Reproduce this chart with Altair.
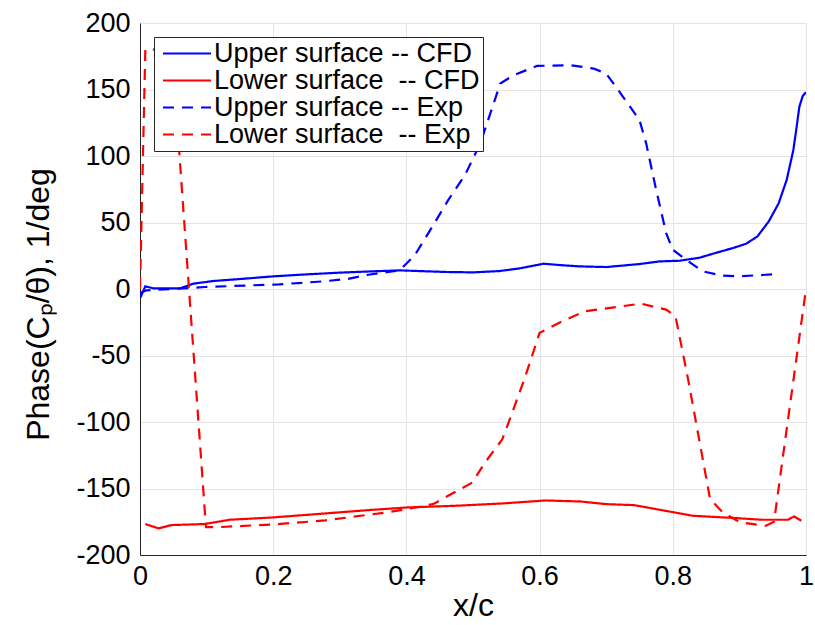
import altair as alt
import pandas as pd

series_names = [
    "Upper surface -- CFD",
    "Lower surface\u00a0 -- CFD",
    "Upper surface -- Exp",
    "Lower surface\u00a0 -- Exp",
]
series_colors = ["#0000ff", "#ff0000", "#0000ff", "#ff0000"]
series_dashes = [[1, 0], [1, 0], [11, 8], [11, 8]]

x_ticks = [0, 0.2, 0.4, 0.6, 0.8, 1]
y_ticks = [-200, -150, -100, -50, 0, 50, 100, 150, 200]

upper_cfd_x = [0, 0.008, 0.02, 0.04, 0.06, 0.08, 0.11, 0.15, 0.2, 0.25, 0.3, 0.35, 0.39,
               0.43, 0.46, 0.5, 0.54, 0.57, 0.606, 0.63, 0.66, 0.7, 0.75, 0.78, 0.81, 0.84,
               0.86, 0.89, 0.91, 0.927, 0.944, 0.959, 0.971, 0.981, 0.986, 0.99, 0.995, 1.0]
upper_cfd_y = [-7, 2, 0.5, 0.5, 0.5, 4, 6, 7.5, 9.5, 11, 12.3, 13.3, 14,
               13.3, 12.8, 12.5, 13.5, 15.5, 19, 18, 17, 16.5, 18.75, 20.75, 21.25, 23.5,
               26.5, 30.75, 34, 39.5, 50.75, 64.5, 82, 104.5, 122, 137, 145, 148]

lower_cfd_x = [0.008, 0.028, 0.047, 0.096, 0.135, 0.2, 0.278, 0.343, 0.401, 0.473, 0.544,
               0.609, 0.661, 0.7, 0.742, 0.797, 0.83, 0.895, 0.934, 0.973, 0.982, 0.993]
lower_cfd_y = [-176.75, -180, -177.5, -176.75, -173.5, -171.75, -168.75, -166.25, -164.25,
               -163, -161.25, -159, -159.75, -161.75, -162.5, -167.5, -170.5, -172.25,
               -173.5, -173.5, -171, -174.25]

upper_exp_x = [0.0, 0.01, 0.05, 0.097, 0.164, 0.209, 0.274, 0.311, 0.343, 0.378, 0.39,
               0.413, 0.433, 0.463, 0.488, 0.511, 0.541, 0.561, 0.596, 0.646, 0.681, 0.7,
               0.72, 0.75, 0.76, 0.775, 0.79, 0.8, 0.82, 0.845, 0.875, 0.9, 0.949]
upper_exp_y = [-3, -1, 0, 1.5, 2.7, 3.5, 5.7, 7.5, 10.7, 13.2, 14,
               25.7, 42, 67, 85.7, 109.5, 154.5, 160.75, 167.75, 168.25, 165.75, 162,
               148.25, 127, 109.5, 74.5, 42, 29.5, 22, 13.25, 10, 9.5, 11]

lower_exp_x = [0.0, 0.008, 0.048, 0.099, 0.12, 0.2, 0.278, 0.37, 0.401, 0.44, 0.499, 0.518,
               0.544, 0.557, 0.577, 0.6, 0.635, 0.668, 0.752, 0.79, 0.804, 0.823, 0.856,
               0.875, 0.901, 0.94, 0.952, 0.97, 1.0]
lower_exp_y = [0, 180, 180, -179, -179, -177, -174, -168, -165.5, -161.75, -145.5, -130.5,
               -113, -95.5, -68, -33, -24, -16.75, -11, -15.5, -20.5, -68, -158,
               -168, -175.5, -178, -175, -109, 0]

all_series = [
    (series_names[0], upper_cfd_x, upper_cfd_y),
    (series_names[1], lower_cfd_x, lower_cfd_y),
    (series_names[2], upper_exp_x, upper_exp_y),
    (series_names[3], lower_exp_x, lower_exp_y),
]

rows = []
for name, xs, ys in all_series:
    for i, (xv, yv) in enumerate(zip(xs, ys)):
        rows.append({"series": name, "x": xv, "y": yv, "i": i})
df = pd.DataFrame(rows)

FONT = "Liberation Sans"

legend_cfg = dict(
    title=None,
    orient="none",
    legendX=14,
    legendY=14,
    symbolType="M-2.4,0L2.4,0",
    symbolSize=400,
    symbolStrokeWidth=2.2,
    symbolOffset=16.5,
    labelOffset=13.5,
    labelFont=FONT,
    labelFontSize=27,
    labelColor="#000000",
    labelLimit=400,
    fillColor="#ffffff",
    strokeColor="#262626",
    padding=3,
    rowPadding=-2,
)

chart = alt.Chart(df).mark_line(strokeWidth=2.2, clip=True).encode(
    x=alt.X(
        "x:Q",
        scale=alt.Scale(domain=[0, 1], nice=False, zero=False),
        axis=alt.Axis(
            values=x_ticks,
            labelExpr="toString(datum.value)",
            labelFlush=False,
            title="x/c",
            titleFontSize=32,
            titleFontWeight="normal",
            titleFont=FONT,
            titleColor="#000000",
            titleY=50,
            titleBaseline="middle",
            labelPadding=8,
        ),
    ),
    y=alt.Y(
        "y:Q",
        scale=alt.Scale(domain=[-200, 200], nice=False, zero=False),
        axis=alt.Axis(
            values=y_ticks,
            labelExpr="toString(datum.value)",
            title="Phase(C\u209a/\u03b8), 1/deg",
            titleFontSize=32,
            titleFontWeight="normal",
            titleFont=FONT,
            titleColor="#000000",
            titleX=-102,
            titleY=281,
            titleAngle=270,
            titleAlign="center",
            titleBaseline="middle",
            labelPadding=10,
        ),
    ),
    color=alt.Color(
        "series:N",
        scale=alt.Scale(domain=series_names, range=series_colors),
        legend=alt.Legend(**legend_cfg),
    ),
    strokeDash=alt.StrokeDash(
        "series:N",
        scale=alt.Scale(domain=series_names, range=series_dashes),
        legend=alt.Legend(**legend_cfg),
    ),
    order="i:Q",
).properties(
    width=666,
    height=532,
    autosize=alt.AutoSizeParams(type="none"),
    padding={"left": 140, "top": 23, "right": 9, "bottom": 70},
).configure_view(
    stroke="#dcdcdc",
    strokeWidth=1,
).configure_axis(
    grid=True,
    gridColor="#e4e4e4",
    gridWidth=1,
    domainColor="#262626",
    domainWidth=1,
    ticks=False,
    labelFont=FONT,
    labelFontSize=27,
    labelColor="#000000",
)

chart.save("out.html", embed_options={"renderer": "svg", "actions": False})
